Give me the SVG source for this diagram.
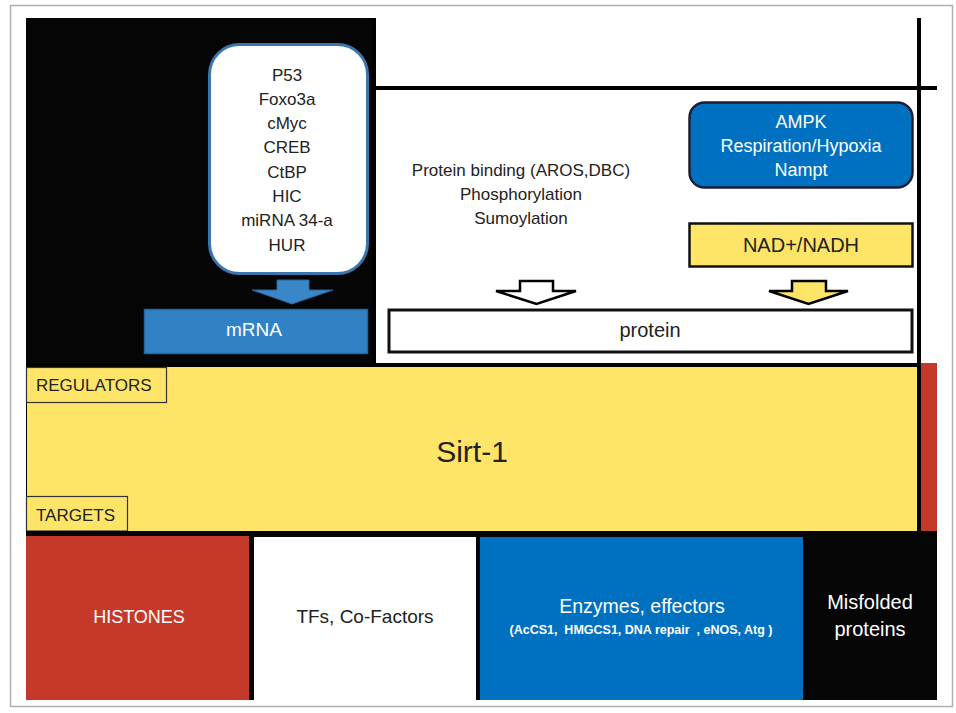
<svg xmlns="http://www.w3.org/2000/svg" width="956" height="713" viewBox="0 0 956 713">
<style>
text{font-family:"Liberation Sans",Arial,sans-serif;fill:#222;text-anchor:middle}
.w{fill:#fff}
.lbl{text-anchor:start}
.line{stroke:#000;stroke-width:4;fill:none}
</style>
<rect x="0" y="0" width="956" height="713" fill="#fff"/>
<rect id="frame" x="10.5" y="5.5" width="942" height="701" fill="none" stroke="#b0b0b0" stroke-width="1.5"/>

<g id="regulators-panel">
  <rect x="26" y="18" width="350" height="347" fill="#050505"/>
  <rect x="376" y="18" width="543" height="347" fill="#fff"/>
  <line class="line" x1="374" y1="18" x2="374" y2="365"/>
  <line class="line" x1="376" y1="88" x2="937" y2="88"/>
  <line class="line" x1="919" y1="18" x2="919" y2="535"/>
  <line class="line" x1="376" y1="365" x2="921" y2="365"/>
</g>

<g id="tf-list">
  <rect x="209.5" y="44.5" width="158" height="229" rx="30" ry="30" fill="#fff" stroke="#3a76ad" stroke-width="3"/>
  <text x="287" y="81" font-size="17">P53</text>
  <text x="287" y="105" font-size="17">Foxo3a</text>
  <text x="287" y="129" font-size="17">cMyc</text>
  <text x="287" y="153" font-size="17">CREB</text>
  <text x="287" y="178" font-size="17">CtBP</text>
  <text x="287" y="202" font-size="17">HIC</text>
  <text x="287" y="226" font-size="17">miRNA 34-a</text>
  <text x="287" y="251" font-size="17">HUR</text>
</g>

<g id="mrna">
  <rect x="144.5" y="309.5" width="223" height="44" fill="#3182c4" stroke="#2a65a0" stroke-width="1.5"/>
  <text class="w" x="254" y="336" font-size="19">mRNA</text>
</g>

<g id="modifications">
  <text x="521" y="176" font-size="17">Protein binding (AROS,DBC)</text>
  <text x="521" y="200" font-size="17">Phosphorylation</text>
  <text x="521" y="224" font-size="17">Sumoylation</text>
</g>

<g id="ampk">
  <rect x="689.5" y="102.5" width="223" height="85" rx="15" ry="15" fill="#0070c0" stroke="#1c1f33" stroke-width="2.5"/>
  <text class="w" x="801" y="128" font-size="18">AMPK</text>
  <text class="w" x="801" y="152" font-size="18">Respiration/Hypoxia</text>
  <text class="w" x="801" y="176" font-size="18">Nampt</text>
</g>

<g id="nad">
  <rect x="689.5" y="223.5" width="223" height="43" fill="#fee568" stroke="#111" stroke-width="2.5"/>
  <text x="801" y="252" font-size="20">NAD+/NADH</text>
</g>

<g id="protein">
  <rect x="389" y="310" width="523" height="42" fill="#fff" stroke="#111" stroke-width="3"/>
  <text x="650" y="337" font-size="20">protein</text>
</g>

<g id="connectors">
  <path d="M277,280 H309 V290 H333 L292,304 L252,290 H277 Z" fill="#3a87c8" stroke="#2a65a0" stroke-width="1"/>
  <path d="M520,281 H553 V291 H576 L536.5,304 L496,291 H520 Z" fill="#fff" stroke="#000" stroke-width="2.5" stroke-linejoin="miter"/>
  <path d="M792,281 H826 V291 H848 L808.5,304 L769,291 H792 Z" fill="#fee568" stroke="#000" stroke-width="2.5"/>
</g>

<g id="sirt1">
  <rect x="26" y="363" width="895" height="174" fill="#000"/>
  <rect x="27" y="367" width="890" height="164" fill="#fee568"/>
  <rect x="921" y="363" width="16" height="169" fill="#c5392b"/>
  <text x="472" y="462" font-size="30">Sirt-1</text>
</g>

<g id="regulators-label">
  <rect x="26.5" y="367.5" width="140" height="35" fill="#fee568" stroke="#333" stroke-width="1.2"/>
  <text class="lbl" x="36" y="391" font-size="17">REGULATORS</text>
</g>

<g id="targets-label">
  <rect x="26.5" y="496.5" width="101" height="34.5" fill="#fee568" stroke="#333" stroke-width="1.2"/>
  <text class="lbl" x="36" y="521" font-size="17">TARGETS</text>
</g>

<g id="targets">
  <rect x="26" y="531" width="911" height="169" fill="#050505"/>
</g>

<g id="histones">
  <rect x="26" y="536" width="223" height="164" fill="#c5392b"/>
  <text class="w" x="139" y="623" font-size="18">HISTONES</text>
</g>

<g id="tfs">
  <rect x="254" y="537" width="222" height="163" fill="#fff"/>
  <text x="365" y="623" font-size="19">TFs, Co-Factors</text>
</g>

<g id="enzymes">
  <rect x="480" y="537" width="323" height="163" fill="#0070c0"/>
  <text class="w" x="642" y="613" font-size="19.5">Enzymes, effectors</text>
  <text class="w" x="641" y="634" font-size="12.5" font-weight="bold" xml:space="preserve">(AcCS1,  HMGCS1, DNA repair  , eNOS, Atg )</text>
</g>

<g id="misfolded">
  <text class="w" x="870" y="609" font-size="20">Misfolded</text>
  <text class="w" x="870" y="636" font-size="20">proteins</text>
</g>
</svg>
